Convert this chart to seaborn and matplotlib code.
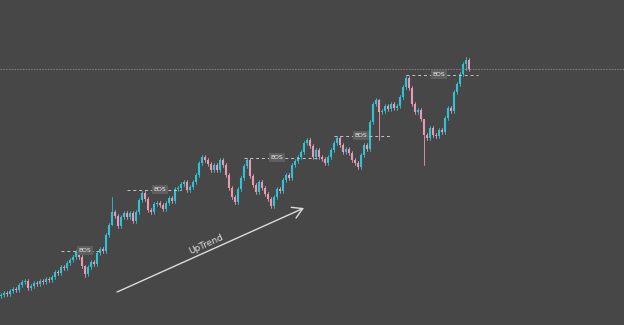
import numpy as np
import pandas as pd
import matplotlib
matplotlib.use("Agg")
import matplotlib.pyplot as plt
import seaborn as sns

# ---- data (price units are arbitrary) ----
closes = [30, 32, 31, 34, 36, 35, 40, 43, 44, 37, 39, 42, 41, 44, 43, 46, 45, 48, 53, 52,
          58, 57, 62, 65, 68, 73, 68, 59, 51, 58, 63, 61, 72, 76, 74, 90, 100, 113, 109, 99,
          108, 112, 108, 112, 104, 113, 125, 132, 126, 115, 113, 121, 122, 120, 116, 122, 127, 124, 136, 137,
          141, 143, 135, 138, 143, 150, 162, 168, 165, 161, 155, 160, 155, 165, 160, 150, 137, 128, 123, 136,
          147, 159, 165, 149, 140, 133, 143, 137, 131, 126, 119, 128, 136, 134, 145, 150, 147, 160, 164, 168,
          173, 182, 185, 179, 168, 175, 168, 166, 162, 168, 175, 182, 187, 180, 173, 176, 172, 165, 162, 158,
          170, 180, 176, 203, 221, 225, 213, 214, 219, 216, 221, 217, 219, 228, 238, 247, 237, 221, 213, 215,
          206, 190, 187, 197, 190, 189, 195, 193, 207, 217, 214, 233, 241, 251, 261, 265, 256]
first_open = 29
# candles whose wicks reach further than usual: (index, high, low)
long_wicks = [(28, 60, 48), (37, 128, 100), (126, 226, 185), (135, 250, 236),
              (141, 190, 160), (155, 268, 255)]
wick_len = 2.0

bos_levels = [74, 135, 167, 189, 250]
bos_start = [20, 42, 81, 111, 135]
bos_end = [33, 60, 106, 130, 159]
bos_label_at = [28, 53, 92, 120, 146]
bos_text = "BOS"

top_level = 256
trend_start = (38.7, 33)
trend_end = (101.0, 117)
trend_text = "UpTrend"

# ---- build candle table ----
opens = [first_open] + closes[:-1]
n = len(closes)
highs = [max(o, c) + wick_len for o, c in zip(opens, closes)]
lows = [min(o, c) - wick_len for o, c in zip(opens, closes)]
for i, h, l in long_wicks:
    highs[i] = h
    lows[i] = l

body_rows, wick_rows = [], []
for i in range(n):
    o, c = opens[i], closes[i]
    d = "up" if c >= o else "down"
    lo_b, hi_b = min(o, c), max(o, c)
    if hi_b - lo_b < 1.0:
        hi_b = lo_b + 1.0
    body_rows += [(i, lo_b, d), (i, hi_b, d)]
    wick_rows += [(i, lows[i], d), (i, highs[i], d)]
bodies = pd.DataFrame(body_rows, columns=["idx", "price", "dir"])
wicks = pd.DataFrame(wick_rows, columns=["idx", "price", "dir"])

BG = "#474747"
palette = {"up": "#2ec3d5", "down": "#e89ab2"}

sns.set_theme(style="dark", rc={"axes.facecolor": BG, "figure.facecolor": BG})
plt.rcParams["font.family"] = ["DejaVu Sans"]

fig = plt.figure(figsize=(6.24, 3.25), dpi=100)
ax = fig.add_axes([0, 0, 1, 1])
ax.set_facecolor(BG)

sns.lineplot(data=wicks, x="idx", y="price", units="idx", estimator=None, hue="dir",
             palette=palette, linewidth=0.6, legend=False, sort=False, ax=ax)
sns.lineplot(data=bodies, x="idx", y="price", units="idx", estimator=None, hue="dir",
             palette=palette, linewidth=1.5, legend=False, sort=False, ax=ax,
             solid_capstyle="butt")

ax.set_xlim(-1 / 3, 623 / 3)
ax.set_ylim(0, 325)

# top horizontal level
ax.axhline(top_level, color="#857777", linewidth=0.8, linestyle=(0, (1.5, 1.0)))

# BOS lines
for lvl, s, e, lab in zip(bos_levels, bos_start, bos_end, bos_label_at):
    ax.plot([s, e], [lvl, lvl], color="#c4c4c4", linewidth=0.7, linestyle=(0, (3, 3)))
    ax.text(lab, lvl + 0.5, bos_text, fontsize=4.4, color="#f0f0f0", ha="center", va="center",
            bbox=dict(boxstyle="square,pad=0.25", facecolor="#5e5e5e", edgecolor="none"))

# trend arrow
ax.annotate("", xy=trend_end, xytext=trend_start,
            arrowprops=dict(arrowstyle="->,head_length=0.6,head_width=0.35", color="#dcdcdc",
                            linewidth=1.0, shrinkA=0, shrinkB=0))
# rotation angle in screen space
p0 = ax.transData.transform(trend_start)
p1 = ax.transData.transform(trend_end)
ang = np.degrees(np.arctan2(p1[1] - p0[1], p1[0] - p0[0]))
mid = ((trend_start[0] + trend_end[0]) / 2 - 1.5, (trend_start[1] + trend_end[1]) / 2 + 6)
ax.text(mid[0], mid[1], trend_text, fontsize=6.5, color="#e0e0e0", rotation=ang,
        rotation_mode="anchor", ha="center", va="center")

ax.set_axis_off()
fig.savefig("out.png", dpi=100, facecolor=BG)
